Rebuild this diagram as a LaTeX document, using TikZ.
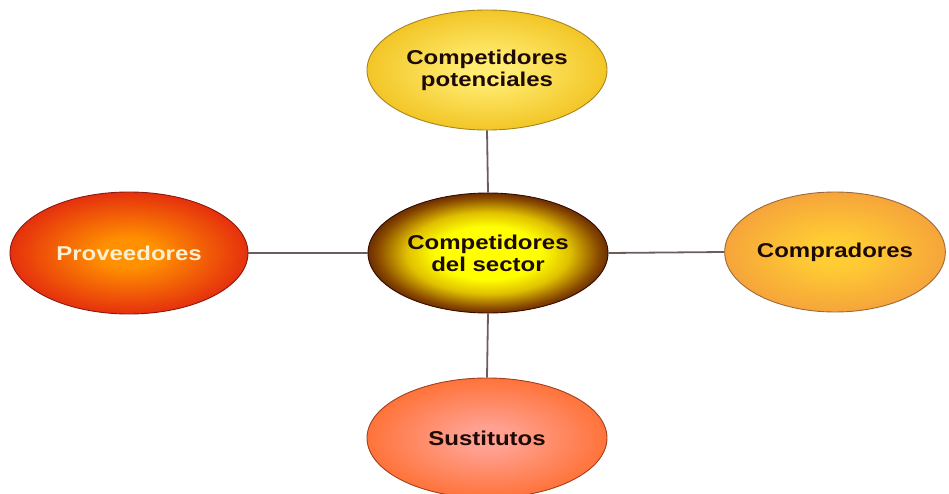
\documentclass[tikz,border=0pt]{standalone}
\usepackage{fontspec}
\newfontfamily\labfont[FakeStretch=1.2]{Liberation Sans}
\usetikzlibrary{shapes.geometric}
\definecolor{topIn}{HTML}{FFEC70}
\definecolor{topOut}{HTML}{F0BE18}
\definecolor{topBd}{HTML}{A88420}
\definecolor{ctrIn}{HTML}{FFFF00}
\definecolor{ctrMid}{HTML}{E0C000}
\definecolor{ctrDk}{HTML}{8A4A00}
\definecolor{ctrOut}{HTML}{3A0800}
\definecolor{lefIn}{HTML}{FF9000}
\definecolor{lefOut}{HTML}{E01C10}
\definecolor{lefBd}{HTML}{8A1A10}
\definecolor{rgtIn}{HTML}{FFCC33}
\definecolor{rgtOut}{HTML}{F49C3C}
\definecolor{rgtBd}{HTML}{9A6A3A}
\definecolor{botIn}{HTML}{FFA090}
\definecolor{botOut}{HTML}{FF6A28}
\definecolor{botBd}{HTML}{A04020}
\definecolor{txtDk}{HTML}{1E0A05}
\definecolor{txtLt}{HTML}{FFF0D0}
\definecolor{lineC}{HTML}{6E5C5C}
\pgfdeclareradialshading{topsh}{\pgfpoint{0bp}{0bp}}{color(0bp)=(topIn); color(5bp)=(topIn); color(29bp)=(topOut); color(50bp)=(topOut)}
\pgfdeclareradialshading{ctrsh}{\pgfpoint{0bp}{0bp}}{color(0bp)=(ctrIn); color(11bp)=(ctrIn); color(17bp)=(ctrMid); color(23bp)=(ctrDk); color(28bp)=(ctrOut); color(50bp)=(ctrOut)}
\pgfdeclareradialshading{lefsh}{\pgfpoint{0bp}{0bp}}{color(0bp)=(lefIn); color(6bp)=(lefIn); color(29bp)=(lefOut); color(50bp)=(lefOut)}
\pgfdeclareradialshading{rgtsh}{\pgfpoint{0bp}{0bp}}{color(0bp)=(rgtIn); color(6bp)=(rgtIn); color(29bp)=(rgtOut); color(50bp)=(rgtOut)}
\pgfdeclareradialshading{botsh}{\pgfpoint{0bp}{0bp}}{color(0bp)=(botIn); color(5bp)=(botIn); color(29bp)=(botOut); color(50bp)=(botOut)}
\tikzset{
  oval/.style={ellipse, minimum width=240pt, minimum height=120pt, inner sep=0pt,
    line width=0.9pt, align=center, font=\labfont\bfseries\fontsize{20}{22}\selectfont, text=txtDk},
  link/.style={draw=lineC, line width=1.8pt}
}
\begin{document}
\begin{tikzpicture}[x=1pt,y=-1pt]
\useasboundingbox (0,0) rectangle (949,494);
\node[oval, shading=topsh, draw=topBd] (top) at (487,70) {Competidores\\potenciales};
\node[oval, shading=ctrsh, draw=ctrOut] (ctr) at (488,253) {Competidores\\del sector};
\node[oval, shading=lefsh, draw=lefBd, minimum width=238pt, minimum height=122pt, text=txtLt] (lef) at (129,253) {Proveedores};
\node[oval, shading=rgtsh, draw=rgtBd, minimum width=220pt] (rgt) at (835,252) {Compradores};
\node[oval, shading=botsh, draw=botBd] (bot) at (487,438) {Sustitutos};
\draw[link] (top.south) -- (ctr.north);
\draw[link] (lef.east) -- (ctr.west);
\draw[link] (ctr.east) -- (rgt.west);
\draw[link] (ctr.south) -- (bot.north);
\end{tikzpicture}
\end{document}
